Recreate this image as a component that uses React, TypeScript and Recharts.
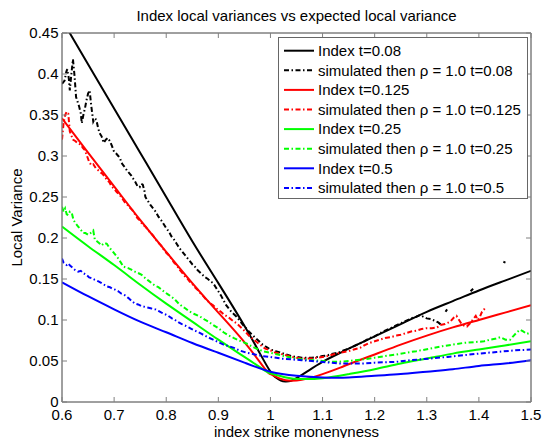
import React from 'react';
import { LineChart, Line, XAxis, YAxis, Legend, ReferenceArea } from 'recharts';

const FONT = '"Liberation Sans", Arial, Helvetica, sans-serif';
const AXIS_COLOR = '#808080';
const TICK_LEN = 5;

const xTicks = [0.6, 0.7, 0.8, 0.9, 1.0, 1.1, 1.2, 1.3, 1.4, 1.5];
const yTicks = [0, 0.05, 0.1, 0.15, 0.2, 0.25, 0.3, 0.35, 0.4, 0.45];

const titleText = 'Index local variances vs expected local variance';
const xLabelText = 'index strike monenyness';
const yLabelText = 'Local Variance';

type Pt = [number, number | null];

// Index t=0.08 (solid black)
const index008: Pt[] = [
  [0.6, 0.466], [0.65, 0.412], [0.7, 0.358], [0.75, 0.304], [0.8, 0.25], [0.85, 0.196],
  [0.9, 0.145], [0.95, 0.093], [0.98, 0.059], [1.0, 0.037], [1.01, 0.03], [1.02, 0.026],
  [1.03, 0.025], [1.04, 0.026], [1.05, 0.029], [1.07, 0.037], [1.1, 0.049], [1.134, 0.06],
  [1.15, 0.065], [1.2, 0.08], [1.25, 0.095], [1.3, 0.11], [1.35, 0.123], [1.4, 0.136],
  [1.45, 0.148], [1.5, 0.16],
];

// simulated then rho = 1.0, t=0.08 (black dash-dot)
const sim008: Pt[] = [
  [0.6, 0.388], [0.605, 0.392], [0.608, 0.402], [0.61, 0.406], [0.613, 0.395], [0.615, 0.38],
  [0.618, 0.4], [0.621, 0.418], [0.624, 0.398], [0.627, 0.372], [0.63, 0.366], [0.633, 0.36],
  [0.636, 0.352], [0.638, 0.34], [0.641, 0.35], [0.644, 0.358], [0.647, 0.368], [0.65, 0.376],
  [0.653, 0.38], [0.656, 0.362], [0.66, 0.342], [0.663, 0.346], [0.666, 0.344], [0.669, 0.335],
  [0.672, 0.328], [0.676, 0.324], [0.68, 0.316], [0.684, 0.32], [0.688, 0.322], [0.692, 0.318],
  [0.696, 0.312], [0.7, 0.305], [0.704, 0.303], [0.708, 0.3], [0.711, 0.298], [0.714, 0.292],
  [0.717, 0.289], [0.721, 0.286], [0.725, 0.282], [0.729, 0.279], [0.733, 0.276], [0.737, 0.272],
  [0.741, 0.268], [0.745, 0.263], [0.749, 0.262], [0.752, 0.266], [0.755, 0.265], [0.758, 0.258],
  [0.76, 0.25], [0.765, 0.245], [0.77, 0.24], [0.775, 0.236], [0.78, 0.232], [0.785, 0.226],
  [0.79, 0.222], [0.795, 0.217], [0.8, 0.212], [0.805, 0.208], [0.81, 0.202], [0.815, 0.198],
  [0.82, 0.193], [0.826, 0.187], [0.83, 0.184], [0.835, 0.18], [0.84, 0.176], [0.845, 0.172],
  [0.85, 0.168], [0.855, 0.165], [0.86, 0.161], [0.865, 0.158], [0.87, 0.155], [0.875, 0.152],
  [0.88, 0.15], [0.885, 0.147], [0.89, 0.145], [0.895, 0.14], [0.9, 0.135], [0.905, 0.13],
  [0.91, 0.124], [0.915, 0.118], [0.92, 0.114], [0.925, 0.11], [0.93, 0.107], [0.935, 0.104],
  [0.94, 0.1], [0.945, 0.096], [0.95, 0.092], [0.955, 0.089], [0.96, 0.085], [0.965, 0.082],
  [0.97, 0.079], [0.975, 0.076], [0.98, 0.073], [0.985, 0.07], [0.99, 0.068], [0.995, 0.066],
  [1.0, 0.064], [1.01, 0.062], [1.02, 0.06], [1.03, 0.058], [1.04, 0.056], [1.05, 0.055],
  [1.06, 0.054], [1.07, 0.054], [1.08, 0.054], [1.09, 0.055], [1.1, 0.056], [1.11, 0.057],
  [1.12, 0.059], [1.13, 0.06], [1.14, 0.063], [1.15, 0.065], [1.16, 0.068], [1.17, 0.071],
  [1.18, 0.074], [1.19, 0.078], [1.2, 0.08], [1.21, 0.084], [1.22, 0.087], [1.23, 0.09],
  [1.24, 0.093], [1.25, 0.096], [1.26, 0.099], [1.27, 0.102], [1.28, 0.104], [1.287, 0.106],
  [1.293, 0.104], [1.3, 0.102], [1.308, 0.101], [1.316, 0.099], [1.322, 0.097], [1.326, 0.095],
  [1.33, 0.093], [1.333, null], [1.336, 0.11], [1.339, 0.113], [1.342, null],
  [1.384, 0.135], [1.389, 0.138], [1.392, null], [1.447, 0.171], [1.451, 0.17],
];

// Index t=0.125 (solid red)
const index0125: Pt[] = [
  [0.6, 0.346], [0.65, 0.304], [0.7, 0.263], [0.75, 0.222], [0.8, 0.183], [0.85, 0.145],
  [0.9, 0.109], [0.95, 0.073], [0.99, 0.04], [1.0, 0.034], [1.02, 0.028], [1.04, 0.026],
  [1.06, 0.027], [1.08, 0.03], [1.1, 0.034], [1.134, 0.042], [1.15, 0.046], [1.2, 0.058],
  [1.25, 0.07], [1.3, 0.081], [1.35, 0.091], [1.4, 0.1], [1.45, 0.109], [1.5, 0.118],
];

// simulated then rho = 1.0, t=0.125 (red dash-dot)
const sim0125: Pt[] = [
  [0.6, 0.32], [0.603, 0.34], [0.606, 0.35], [0.609, 0.354], [0.612, 0.352], [0.615, 0.33],
  [0.618, 0.325], [0.621, 0.32], [0.626, 0.318], [0.631, 0.315], [0.636, 0.314], [0.64, 0.31],
  [0.644, 0.307], [0.648, 0.3], [0.652, 0.293], [0.656, 0.289], [0.66, 0.29], [0.665, 0.285],
  [0.669, 0.283], [0.674, 0.28], [0.678, 0.278], [0.682, 0.275], [0.687, 0.27], [0.691, 0.268],
  [0.695, 0.263], [0.7, 0.26], [0.705, 0.256], [0.71, 0.253], [0.715, 0.249], [0.72, 0.244],
  [0.725, 0.241], [0.73, 0.237], [0.735, 0.234], [0.74, 0.229], [0.745, 0.224], [0.75, 0.221],
  [0.755, 0.216], [0.76, 0.214], [0.765, 0.21], [0.77, 0.206], [0.775, 0.203], [0.78, 0.198],
  [0.785, 0.194], [0.79, 0.191], [0.795, 0.186], [0.8, 0.182], [0.805, 0.179], [0.81, 0.175],
  [0.815, 0.17], [0.82, 0.167], [0.826, 0.161], [0.83, 0.158], [0.835, 0.154], [0.84, 0.151],
  [0.845, 0.147], [0.85, 0.144], [0.855, 0.14], [0.86, 0.137], [0.865, 0.133], [0.87, 0.13],
  [0.875, 0.126], [0.88, 0.123], [0.885, 0.12], [0.89, 0.118], [0.895, 0.115], [0.9, 0.112],
  [0.905, 0.11], [0.91, 0.107], [0.915, 0.105], [0.922, 0.102], [0.93, 0.098], [0.935, 0.096],
  [0.94, 0.093], [0.95, 0.087], [0.96, 0.08], [0.97, 0.075], [0.98, 0.07], [0.986, 0.067],
  [0.99, 0.065], [1.0, 0.063], [1.01, 0.06], [1.018, 0.059], [1.03, 0.057], [1.04, 0.055],
  [1.05, 0.054], [1.06, 0.053], [1.07, 0.053], [1.08, 0.053], [1.09, 0.054], [1.1, 0.055],
  [1.11, 0.056], [1.12, 0.058], [1.134, 0.06], [1.15, 0.062], [1.16, 0.064], [1.172, 0.066],
  [1.18, 0.069], [1.19, 0.072], [1.2, 0.074], [1.21, 0.076], [1.22, 0.078], [1.23, 0.079],
  [1.242, 0.081], [1.25, 0.082], [1.26, 0.084], [1.27, 0.086], [1.28, 0.087], [1.29, 0.089],
  [1.3, 0.09], [1.31, 0.09], [1.32, 0.091], [1.326, 0.094], [1.335, 0.095], [1.345, 0.098],
  [1.352, 0.103], [1.357, 0.105], [1.362, 0.1], [1.367, 0.095], [1.372, 0.093], [1.377, 0.092],
  [1.383, 0.096], [1.389, 0.101], [1.394, 0.105], [1.398, 0.1], [1.402, 0.104], [1.406, 0.11],
  [1.41, 0.113], [1.413, 0.116],
];

// Index t=0.25 (solid green)
const index025: Pt[] = [
  [0.6, 0.214], [0.65, 0.19], [0.7, 0.167], [0.75, 0.143], [0.8, 0.12], [0.85, 0.098],
  [0.9, 0.076], [0.95, 0.055], [0.99, 0.038], [1.0, 0.035], [1.03, 0.03], [1.06, 0.028],
  [1.1, 0.029], [1.15, 0.034], [1.2, 0.04], [1.25, 0.047], [1.3, 0.053], [1.35, 0.059],
  [1.4, 0.064], [1.45, 0.069], [1.5, 0.074],
];

// simulated then rho = 1.0, t=0.25 (green dash-dot)
const sim025: Pt[] = [
  [0.6, 0.238], [0.603, 0.232], [0.606, 0.236], [0.609, 0.229], [0.612, 0.228], [0.615, 0.232],
  [0.619, 0.23], [0.622, 0.222], [0.626, 0.218], [0.631, 0.214], [0.636, 0.21], [0.641, 0.206],
  [0.645, 0.206], [0.65, 0.204], [0.655, 0.206], [0.66, 0.209], [0.663, 0.198], [0.667, 0.196],
  [0.671, 0.194], [0.676, 0.191], [0.681, 0.194], [0.686, 0.193], [0.69, 0.189], [0.694, 0.186],
  [0.698, 0.183], [0.703, 0.179], [0.708, 0.175], [0.713, 0.17], [0.718, 0.165], [0.723, 0.164],
  [0.728, 0.163], [0.734, 0.161], [0.74, 0.159], [0.747, 0.157], [0.753, 0.155], [0.76, 0.151],
  [0.766, 0.148], [0.772, 0.145], [0.778, 0.142], [0.785, 0.14], [0.791, 0.137], [0.797, 0.134],
  [0.804, 0.131], [0.811, 0.128], [0.818, 0.124], [0.824, 0.12], [0.83, 0.117], [0.837, 0.114],
  [0.843, 0.111], [0.849, 0.109], [0.855, 0.107], [0.862, 0.105], [0.868, 0.103], [0.875, 0.1],
  [0.881, 0.098], [0.89, 0.094], [0.9, 0.09], [0.91, 0.085], [0.92, 0.081], [0.93, 0.078],
  [0.94, 0.075], [0.955, 0.071], [0.97, 0.066], [0.985, 0.062], [1.0, 0.06], [1.02, 0.057],
  [1.04, 0.054], [1.06, 0.052], [1.08, 0.051], [1.1, 0.05], [1.114, 0.049], [1.13, 0.049],
  [1.15, 0.05], [1.178, 0.052], [1.2, 0.054], [1.22, 0.056], [1.242, 0.058], [1.26, 0.06],
  [1.28, 0.062], [1.306, 0.065], [1.33, 0.068], [1.35, 0.07], [1.37, 0.072], [1.39, 0.073],
  [1.41, 0.074], [1.421, 0.076], [1.431, 0.077], [1.441, 0.079], [1.451, 0.076], [1.46, 0.076],
  [1.467, 0.081], [1.473, 0.085], [1.479, 0.088], [1.485, 0.086], [1.492, 0.083], [1.5, 0.085],
];

// Index t=0.5 (solid blue)
const index05: Pt[] = [
  [0.6, 0.146], [0.65, 0.129], [0.7, 0.113], [0.75, 0.098], [0.8, 0.085], [0.85, 0.072],
  [0.9, 0.06], [0.95, 0.048], [1.0, 0.037], [1.05, 0.032], [1.1, 0.03], [1.15, 0.03],
  [1.2, 0.032], [1.25, 0.034], [1.3, 0.037], [1.35, 0.04], [1.4, 0.044], [1.45, 0.047],
  [1.5, 0.051],
];

// simulated then rho = 1.0, t=0.5 (blue dash-dot)
const sim05: Pt[] = [
  [0.6, 0.175], [0.603, 0.17], [0.606, 0.168], [0.609, 0.167], [0.612, 0.169], [0.616, 0.166],
  [0.62, 0.164], [0.625, 0.161], [0.631, 0.159], [0.636, 0.16], [0.641, 0.157], [0.647, 0.155],
  [0.652, 0.152], [0.657, 0.151], [0.663, 0.149], [0.67, 0.147], [0.676, 0.145], [0.681, 0.143],
  [0.686, 0.141], [0.692, 0.14], [0.697, 0.138], [0.702, 0.137], [0.708, 0.135], [0.714, 0.132],
  [0.721, 0.13], [0.727, 0.127], [0.734, 0.123], [0.74, 0.12], [0.746, 0.119], [0.752, 0.117],
  [0.759, 0.116], [0.766, 0.115], [0.772, 0.114], [0.779, 0.113], [0.785, 0.111], [0.791, 0.109],
  [0.798, 0.107], [0.804, 0.105], [0.811, 0.102], [0.817, 0.1], [0.824, 0.097], [0.83, 0.095],
  [0.837, 0.093], [0.843, 0.091], [0.849, 0.089], [0.855, 0.087], [0.862, 0.085], [0.868, 0.083],
  [0.874, 0.081], [0.88, 0.079], [0.89, 0.076], [0.9, 0.073], [0.91, 0.07], [0.92, 0.068],
  [0.93, 0.066], [0.94, 0.063], [0.955, 0.06], [0.97, 0.058], [0.985, 0.056], [1.0, 0.055],
  [1.02, 0.053], [1.04, 0.052], [1.06, 0.051], [1.08, 0.05], [1.095, 0.049], [1.114, 0.048],
  [1.134, 0.047], [1.16, 0.047], [1.178, 0.047], [1.2, 0.048], [1.242, 0.049], [1.27, 0.051],
  [1.306, 0.053], [1.34, 0.055], [1.37, 0.057], [1.4, 0.059], [1.434, 0.061], [1.47, 0.063],
  [1.5, 0.064],
];

const toRows = (pts: Pt[]) => pts.map(([x, y]) => ({ x, y }));

const DASH = '5 2.5 1.5 2.5';

const seriesDefs = [
  { name: 'Index t=0.08', pts: index008, color: '#000000', dashed: false },
  { name: 'simulated then \u03c1 = 1.0 t=0.08', pts: sim008, color: '#000000', dashed: true },
  { name: 'Index t=0.125', pts: index0125, color: '#ff0000', dashed: false },
  { name: 'simulated then \u03c1 = 1.0 t=0.125', pts: sim0125, color: '#ff0000', dashed: true },
  { name: 'Index t=0.25', pts: index025, color: '#00ff00', dashed: false },
  { name: 'simulated then \u03c1 = 1.0 t=0.25', pts: sim025, color: '#00ff00', dashed: true },
  { name: 'Index t=0.5', pts: index05, color: '#0000ff', dashed: false },
  { name: 'simulated then \u03c1 = 1.0 t=0.5', pts: sim05, color: '#0000ff', dashed: true },
];

const fmt = (v: number) => String(Math.round(v * 100) / 100);

const BottomTick = (p: any) => {
  const { x, y, payload } = p;
  return (
    <g>
      <line x1={x} x2={x} y1={y} y2={y - TICK_LEN} stroke={AXIS_COLOR} strokeWidth={1} />
      <text x={x} y={y + 17.5} textAnchor="middle" fill="#000" fontSize={15} fontFamily={FONT}>
        {fmt(payload.value)}
      </text>
    </g>
  );
};

const TopTick = (p: any) => {
  const { x, y } = p;
  return <line x1={x} x2={x} y1={y} y2={y + TICK_LEN} stroke={AXIS_COLOR} strokeWidth={1} />;
};

const LeftTick = (p: any) => {
  const { x, y, payload } = p;
  return (
    <g>
      <line x1={x} x2={x + TICK_LEN} y1={y} y2={y} stroke={AXIS_COLOR} strokeWidth={1} />
      <text x={x - 3.5} y={y + 5.3} textAnchor="end" fill="#000" fontSize={15} fontFamily={FONT}>
        {fmt(payload.value)}
      </text>
    </g>
  );
};

const RightTick = (p: any) => {
  const { x, y } = p;
  return <line x1={x} x2={x - TICK_LEN} y1={y} y2={y} stroke={AXIS_COLOR} strokeWidth={1} />;
};

const XLabel = (p: any) => {
  const vb = p.viewBox || { x: 62, y: 402, width: 469, height: 36 };
  return (
    <text x={vb.x + vb.width / 2} y={vb.y + 34.5} textAnchor="middle" fill="#000" fontSize={15} fontFamily={FONT}>
      {xLabelText}
    </text>
  );
};

const TitleLabel = (p: any) => {
  const vb = p.viewBox || { x: 62, y: 33, width: 469, height: 369 };
  return (
    <text x={vb.x + vb.width / 2} y={vb.y - 12} textAnchor="middle" fill="#000" fontSize={15} fontFamily={FONT}>
      {titleText}
    </text>
  );
};

const YLabel = (p: any) => {
  const vb = p.viewBox || { x: 0, y: 33, width: 62, height: 369 };
  const cx = vb.x + 21.5;
  const cy = vb.y + vb.height / 2;
  return (
    <text x={cx} y={cy} transform={`rotate(-90 ${cx} ${cy})`} textAnchor="middle" fill="#000" fontSize={15} fontFamily={FONT}>
      {yLabelText}
    </text>
  );
};

const LegendBox = () => {
  const w = 250;
  const h = 162;
  const top = 13.7;
  const step = 19.6;
  return (
    <svg width={w} height={h} style={{ display: 'block' }}>
      <rect x={0.5} y={0.5} width={w - 1} height={h - 1} fill="#fff" stroke="#666" strokeWidth={1} />
      {seriesDefs.map((s, i) => {
        const cy = top + i * step;
        return (
          <g key={s.name}>
            <line x1={6} x2={36} y1={cy} y2={cy} stroke={s.color} strokeWidth={2}
              strokeDasharray={s.dashed ? DASH : undefined} />
            <text x={40} y={cy + 5.3} fontSize={15} fontFamily={FONT} fill="#000">{s.name}</text>
          </g>
        );
      })}
    </svg>
  );
};

export default function App() {
  return (
    <div style={{ position: 'absolute', left: 0, top: 0, width: 543, height: 438, background: '#fff' }}>
      <LineChart
        width={543}
        height={438}
        margin={{ top: 32, right: 11, bottom: 0, left: 0 }}
        style={{ fontFamily: FONT }}
      >
        <XAxis
          xAxisId="b"
          type="number"
          dataKey="x"
          domain={[0.6, 1.5]}
          ticks={xTicks}
          interval={0}
          allowDataOverflow
          height={36}
          stroke={AXIS_COLOR}
          tickLine={false}
          tickSize={0}
          tickMargin={0}
          tick={BottomTick}
          label={XLabel}
        />
        <XAxis
          xAxisId="t"
          orientation="top"
          type="number"
          dataKey="x"
          domain={[0.6, 1.5]}
          ticks={xTicks}
          interval={0}
          allowDataOverflow
          height={1}
          stroke={AXIS_COLOR}
          tickLine={false}
          tickSize={0}
          tickMargin={0}
          tick={TopTick}
        />
        <YAxis
          yAxisId="l"
          type="number"
          domain={[0, 0.45]}
          ticks={yTicks}
          interval={0}
          allowDataOverflow
          width={62}
          stroke={AXIS_COLOR}
          tickLine={false}
          tickSize={0}
          tickMargin={0}
          tick={LeftTick}
          label={YLabel}
        />
        <YAxis
          yAxisId="r"
          orientation="right"
          type="number"
          domain={[0, 0.45]}
          ticks={yTicks}
          interval={0}
          allowDataOverflow
          width={1}
          stroke={AXIS_COLOR}
          tickLine={false}
          tickSize={0}
          tickMargin={0}
          tick={RightTick}
        />
        <ReferenceArea
          xAxisId="b"
          yAxisId="l"
          x1={0.6}
          x2={1.5}
          y1={0}
          y2={0.45}
          fill="none"
          fillOpacity={0}
          stroke={AXIS_COLOR}
          strokeWidth={1}
          label={TitleLabel}
        />
        {seriesDefs.map((s) => (
          <Line
            key={s.name}
            name={s.name}
            data={toRows(s.pts)}
            dataKey="y"
            xAxisId="b"
            yAxisId="l"
            type={s.dashed ? 'linear' : 'natural'}
            stroke={s.color}
            strokeWidth={2}
            strokeDasharray={s.dashed ? DASH : undefined}
            dot={false}
            activeDot={false}
            connectNulls={false}
            isAnimationActive={false}
          />
        ))}
        <Legend
          layout="vertical"
          align="center"
          verticalAlign="middle"
          content={LegendBox}
          wrapperStyle={{ position: 'absolute', left: 278, top: 37, width: 250, height: 162, margin: 0, padding: 0 }}
        />
      </LineChart>
    </div>
  );
}
